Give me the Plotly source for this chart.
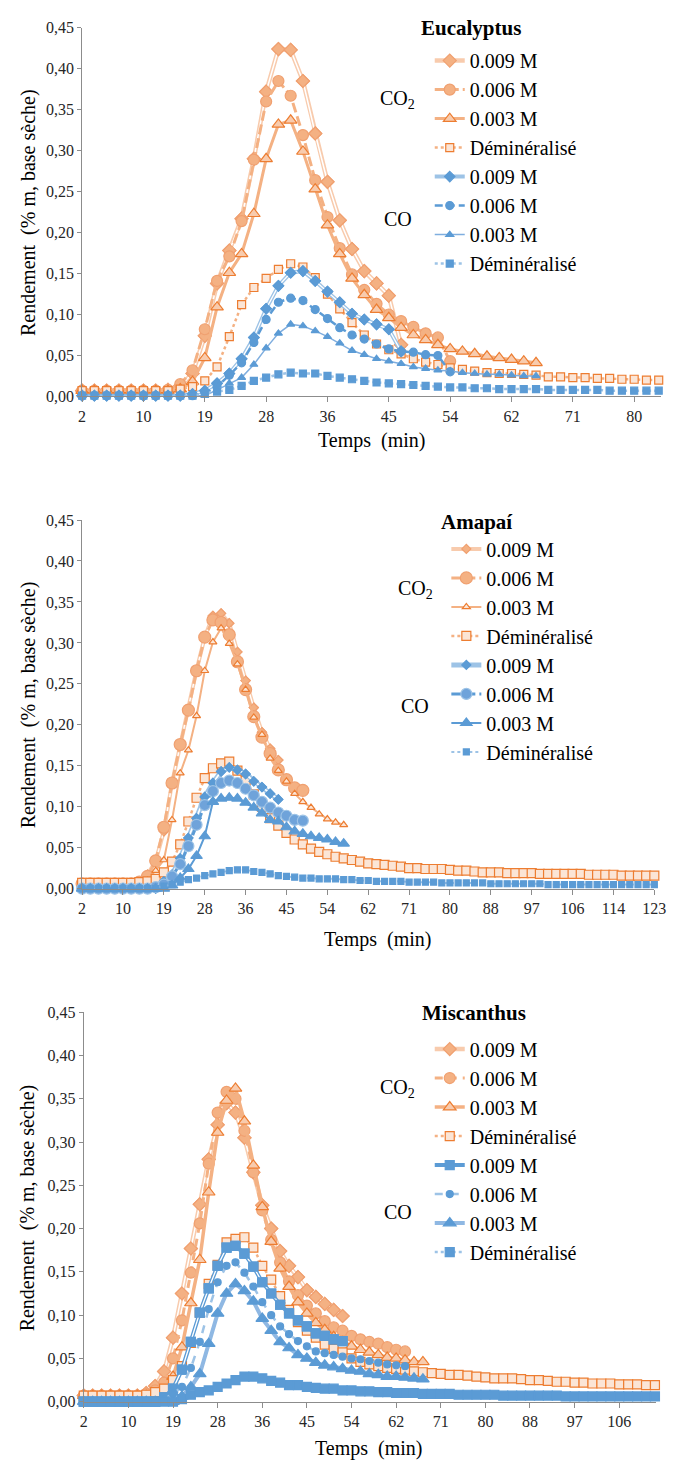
import plotly.graph_objects as go

W, H = 680, 1468
SERIF = "Liberation Serif, Times New Roman, serif"

# ---- tick labels (Excel category axis, one label every 5 points) ----
ticks_euc = ["2", "10", "19", "28", "36", "45", "54", "62", "71", "80"]
ticks_ama = ["2", "10", "19", "28", "36", "45", "54", "62", "71", "80", "88", "97", "106", "114", "123"]
ticks_mis = ["2", "10", "19", "28", "36", "45", "54", "62", "71", "80", "88", "97", "106"]

series_names = ["0.009 M", "0.006 M", "0.003 M", "Déminéralisé"]

# ---- Eucalyptus ----
euc_co2_009 = [0.007, 0.007, 0.007, 0.007, 0.007, 0.007, 0.007, 0.008, 0.013, 0.028,
               0.074, 0.138, 0.178, 0.217, 0.290, 0.372, 0.424, 0.423, 0.385, 0.321,
               0.262, 0.215, 0.180, 0.153, 0.138, 0.123, 0.063]
euc_co2_006 = [0.007, 0.007, 0.007, 0.007, 0.007, 0.007, 0.007, 0.008, 0.015, 0.032,
               0.082, 0.141, 0.171, 0.214, 0.289, 0.360, 0.385, 0.367, 0.319, 0.264,
               0.219, 0.181, 0.149, 0.130, 0.113, 0.100, 0.092, 0.085, 0.077, 0.072,
               0.043]
euc_co2_003 = [0.007, 0.007, 0.007, 0.007, 0.007, 0.007, 0.007, 0.007, 0.009, 0.018,
               0.047, 0.109, 0.151, 0.174, 0.223, 0.290, 0.332, 0.337, 0.299, 0.253,
               0.209, 0.174, 0.144, 0.124, 0.106, 0.096, 0.084, 0.075, 0.069, 0.063,
               0.058, 0.055, 0.052, 0.049, 0.047, 0.045, 0.043, 0.041]
euc_co2_dem = [0.007, 0.007, 0.007, 0.007, 0.007, 0.007, 0.007, 0.007, 0.009, 0.012,
               0.019, 0.036, 0.073, 0.112, 0.133, 0.144, 0.155, 0.162, 0.158, 0.145,
               0.125, 0.107, 0.090, 0.075, 0.064, 0.057, 0.052, 0.046, 0.042, 0.039,
               0.035, 0.033, 0.031, 0.029, 0.028, 0.028, 0.027, 0.026, 0.024, 0.024,
               0.023, 0.023, 0.022, 0.022, 0.021, 0.021, 0.020, 0.020]
euc_co_009 = [0.001, 0.001, 0.001, 0.001, 0.001, 0.001, 0.001, 0.001, 0.001, 0.003,
              0.007, 0.016, 0.028, 0.046, 0.072, 0.107, 0.135, 0.151, 0.153, 0.141,
              0.128, 0.115, 0.101, 0.094, 0.088, 0.082, 0.055]
euc_co_006 = [0.001, 0.001, 0.001, 0.001, 0.001, 0.001, 0.001, 0.001, 0.001, 0.001,
              0.005, 0.012, 0.026, 0.041, 0.066, 0.094, 0.115, 0.120, 0.117, 0.106,
              0.095, 0.084, 0.075, 0.070, 0.064, 0.058, 0.055, 0.054, 0.051, 0.050,
              0.030]
euc_co_003 = [0.001, 0.001, 0.001, 0.001, 0.001, 0.001, 0.001, 0.001, 0.001, 0.001,
              0.001, 0.008, 0.016, 0.023, 0.039, 0.059, 0.077, 0.088, 0.086, 0.080,
              0.073, 0.065, 0.056, 0.051, 0.046, 0.043, 0.040, 0.036, 0.034, 0.032,
              0.031, 0.029, 0.028, 0.027, 0.027, 0.026, 0.025, 0.025]
euc_co_dem = [0.001, 0.001, 0.001, 0.001, 0.001, 0.001, 0.001, 0.001, 0.001, 0.001,
              0.004, 0.006, 0.008, 0.013, 0.019, 0.023, 0.027, 0.029, 0.028, 0.028,
              0.025, 0.023, 0.021, 0.019, 0.017, 0.016, 0.015, 0.014, 0.013, 0.012,
              0.011, 0.011, 0.010, 0.010, 0.009, 0.009, 0.009, 0.009, 0.008, 0.008,
              0.008, 0.008, 0.008, 0.007, 0.007, 0.007, 0.007, 0.007]

# ---- Amapaí ----
ama_co2_009 = [0.006, 0.006, 0.006, 0.006, 0.006, 0.006, 0.006, 0.008, 0.017, 0.034,
               0.070, 0.129, 0.176, 0.219, 0.267, 0.307, 0.333, 0.336, 0.324, 0.289,
               0.254, 0.221, 0.191, 0.171, 0.157]
ama_co2_006 = [0.006, 0.006, 0.006, 0.006, 0.006, 0.006, 0.006, 0.008, 0.015, 0.034,
               0.075, 0.129, 0.176, 0.218, 0.266, 0.307, 0.328, 0.325, 0.310, 0.277,
               0.243, 0.210, 0.185, 0.165, 0.145, 0.133, 0.123, 0.120]
ama_co2_003 = [0.006, 0.006, 0.006, 0.006, 0.006, 0.006, 0.006, 0.006, 0.010, 0.022,
               0.035, 0.084, 0.141, 0.169, 0.211, 0.266, 0.301, 0.318, 0.299, 0.274,
               0.243, 0.209, 0.188, 0.159, 0.144, 0.131, 0.116, 0.106, 0.099, 0.091,
               0.085, 0.081, 0.078]
ama_co2_dem = [0.007, 0.007, 0.007, 0.007, 0.007, 0.007, 0.007, 0.008, 0.009, 0.012,
               0.020, 0.033, 0.054, 0.082, 0.111, 0.135, 0.147, 0.153, 0.155, 0.144,
               0.132, 0.115, 0.100, 0.086, 0.077, 0.068, 0.060, 0.054, 0.049, 0.045,
               0.042, 0.039, 0.037, 0.035, 0.033, 0.031, 0.030, 0.029, 0.028, 0.027,
               0.025, 0.025, 0.024, 0.024, 0.024, 0.023, 0.022, 0.022, 0.021, 0.020,
               0.020, 0.020, 0.019, 0.019, 0.019, 0.019, 0.018, 0.018, 0.018, 0.018,
               0.018, 0.018, 0.017, 0.017, 0.017, 0.017, 0.016, 0.016, 0.016, 0.016,
               0.016]
ama_co_009 = [0.000, 0.000, 0.000, 0.000, 0.000, 0.000, 0.000, 0.000, 0.000, 0.000,
              0.009, 0.017, 0.037, 0.062, 0.086, 0.112, 0.129, 0.143, 0.148, 0.145,
              0.140, 0.131, 0.124, 0.116, 0.109]
ama_co_006 = [0.000, 0.000, 0.000, 0.000, 0.000, 0.000, 0.000, 0.000, 0.000, 0.002,
              0.005, 0.015, 0.030, 0.052, 0.078, 0.102, 0.119, 0.129, 0.132, 0.129,
              0.122, 0.114, 0.106, 0.099, 0.093, 0.089, 0.084, 0.083]
ama_co_003 = [0.000, 0.000, 0.000, 0.000, 0.000, 0.000, 0.000, 0.000, 0.000, 0.000,
              0.000, 0.004, 0.013, 0.024, 0.040, 0.064, 0.106, 0.110, 0.111, 0.110,
              0.105, 0.099, 0.092, 0.084, 0.082, 0.075, 0.070, 0.067, 0.064, 0.062,
              0.060, 0.057, 0.055]
ama_co_dem = [0.000, 0.000, 0.000, 0.000, 0.000, 0.000, 0.000, 0.000, 0.000, 0.000,
              0.003, 0.005, 0.008, 0.011, 0.013, 0.016, 0.018, 0.020, 0.022, 0.023,
              0.023, 0.021, 0.020, 0.018, 0.016, 0.015, 0.014, 0.013, 0.013, 0.012,
              0.012, 0.012, 0.011, 0.011, 0.010, 0.010, 0.009, 0.009, 0.009, 0.009,
              0.008, 0.008, 0.008, 0.008, 0.007, 0.007, 0.007, 0.007, 0.007, 0.007,
              0.006, 0.006, 0.006, 0.006, 0.006, 0.006, 0.006, 0.005, 0.005, 0.005,
              0.005, 0.005, 0.005, 0.005, 0.005, 0.005, 0.005, 0.005, 0.005, 0.005,
              0.005]

# ---- Miscanthus ----
mis_co2_009 = [0.007, 0.007, 0.007, 0.007, 0.007, 0.007, 0.007, 0.010, 0.018, 0.035,
               0.074, 0.125, 0.177, 0.228, 0.280, 0.320, 0.345, 0.334, 0.305, 0.265,
               0.227, 0.200, 0.174, 0.157, 0.144, 0.129, 0.121, 0.113, 0.106, 0.099]
mis_co2_006 = [0.007, 0.007, 0.007, 0.007, 0.007, 0.007, 0.007, 0.009, 0.013, 0.022,
               0.050, 0.094, 0.149, 0.206, 0.275, 0.334, 0.358, 0.350, 0.313, 0.265,
               0.221, 0.187, 0.161, 0.139, 0.123, 0.111, 0.102, 0.093, 0.086, 0.082,
               0.076, 0.072, 0.069, 0.067, 0.063, 0.060, 0.058]
mis_co2_003 = [0.007, 0.007, 0.007, 0.007, 0.007, 0.007, 0.007, 0.007, 0.009, 0.013,
               0.029, 0.063, 0.114, 0.164, 0.242, 0.311, 0.348, 0.362, 0.324, 0.273,
               0.225, 0.185, 0.154, 0.133, 0.115, 0.102, 0.091, 0.083, 0.075, 0.069,
               0.064, 0.060, 0.057, 0.054, 0.051, 0.050, 0.048, 0.046, 0.046]
mis_co2_dem = [0.007, 0.007, 0.007, 0.007, 0.007, 0.007, 0.007, 0.008, 0.011, 0.015,
               0.025, 0.041, 0.068, 0.103, 0.136, 0.158, 0.184, 0.188, 0.190, 0.178,
               0.157, 0.141, 0.122, 0.106, 0.092, 0.082, 0.074, 0.066, 0.061, 0.057,
               0.050, 0.046, 0.043, 0.041, 0.039, 0.038, 0.037, 0.035, 0.034, 0.033,
               0.032, 0.031, 0.031, 0.030, 0.029, 0.028, 0.027, 0.027, 0.027, 0.026,
               0.025, 0.025, 0.024, 0.023, 0.023, 0.022, 0.022, 0.021, 0.021, 0.021,
               0.020, 0.020, 0.020, 0.019, 0.019]
mis_co_009 = [0.000, 0.000, 0.000, 0.000, 0.000, 0.000, 0.000, 0.000, 0.000, 0.005,
              0.015, 0.037, 0.069, 0.103, 0.131, 0.157, 0.178, 0.180, 0.171, 0.156,
              0.138, 0.125, 0.112, 0.102, 0.094, 0.087, 0.079, 0.076, 0.072, 0.070]
mis_co_006 = [0.000, 0.000, 0.000, 0.000, 0.000, 0.000, 0.000, 0.000, 0.000, 0.003,
              0.009, 0.017, 0.039, 0.069, 0.107, 0.138, 0.157, 0.161, 0.149, 0.133,
              0.115, 0.100, 0.087, 0.078, 0.070, 0.064, 0.058, 0.056, 0.054, 0.052,
              0.050, 0.049, 0.047, 0.045, 0.043, 0.042, 0.041]
mis_co_003 = [0.000, 0.000, 0.000, 0.000, 0.000, 0.000, 0.000, 0.000, 0.000, 0.000,
              0.000, 0.006, 0.017, 0.032, 0.067, 0.102, 0.125, 0.136, 0.128, 0.116,
              0.096, 0.082, 0.069, 0.062, 0.054, 0.050, 0.045, 0.042, 0.040, 0.038,
              0.036, 0.035, 0.032, 0.031, 0.029, 0.029, 0.028, 0.027, 0.026]
mis_co_dem = [0.000, 0.000, 0.000, 0.000, 0.000, 0.000, 0.000, 0.000, 0.000, 0.000,
              0.000, 0.003, 0.008, 0.011, 0.013, 0.017, 0.021, 0.025, 0.029, 0.029,
              0.027, 0.024, 0.022, 0.019, 0.019, 0.017, 0.016, 0.015, 0.015, 0.013,
              0.013, 0.012, 0.012, 0.011, 0.011, 0.010, 0.010, 0.010, 0.009, 0.009,
              0.009, 0.009, 0.008, 0.008, 0.008, 0.008, 0.008, 0.007, 0.007, 0.007,
              0.007, 0.007, 0.007, 0.007, 0.006, 0.006, 0.006, 0.006, 0.006, 0.006,
              0.006, 0.006, 0.006, 0.006, 0.006]

# colours
OR_DK = "#ED7D31"
OR_MD = "#F4B183"
OR_LT = "#F8CBAD"
OR_PALE = "#FBE5D6"
BL_DK = "#5B9BD5"
BL_MD = "#7FAEDF"
BL_LT = "#9DC3E6"


def sty(line, lw, dash, symbol, size, fill, edge, double=False):
    return dict(line=line, lw=lw, dash=dash, symbol=symbol, size=size,
                fill=fill, edge=edge, double=double)


# per panel styles, order: CO2 0.009/0.006/0.003/dem, CO 0.009/0.006/0.003/dem
styles_euc = [
    sty(OR_LT, 4.5, "solid", "diamond", 10, OR_MD, "#F0A070", True),
    sty(OR_MD, 3, "10px,4px", "circle", 11, OR_MD, "#F0A070"),
    sty(OR_MD, 3, "solid", "triangle-up", 11, OR_LT, OR_DK),
    sty(OR_MD, 2.5, "dot", "square", 8, OR_PALE, OR_DK),
    sty(BL_LT, 4, "solid", "diamond", 8, BL_DK, BL_DK, True),
    sty(BL_DK, 2.5, "8px,4px", "circle", 8, BL_DK, BL_DK),
    sty(BL_MD, 1.5, "solid", "triangle-up", 7, BL_DK, BL_DK),
    sty(BL_LT, 2.5, "dot", "square", 7, BL_DK, BL_DK),
]
styles_ama = [
    sty(OR_LT, 4, "solid", "diamond", 7, OR_MD, "#F0A070", True),
    sty(OR_MD, 3, "10px,4px", "circle", 12, OR_MD, "#F0A070"),
    sty(OR_MD, 2, "solid", "triangle-up", 7, OR_PALE, OR_DK),
    sty(OR_MD, 2.5, "dot", "square", 9, OR_PALE, OR_DK),
    sty(BL_LT, 5, "solid", "diamond", 7, BL_DK, BL_DK, True),
    sty(BL_DK, 3, "10px,4px", "circle", 11, "#6FA3DA", BL_LT),
    sty(BL_DK, 2, "solid", "triangle-up", 10, BL_DK, BL_DK),
    sty(BL_LT, 2, "dot", "square", 6, BL_DK, BL_DK),
]
styles_mis = [
    sty(OR_LT, 4.5, "solid", "diamond", 10, OR_MD, "#F0A070", True),
    sty(OR_MD, 3, "8px,6px", "circle", 11, OR_MD, "#F0A070"),
    sty(OR_MD, 3.5, "solid", "triangle-up", 11, OR_LT, OR_DK),
    sty(OR_MD, 2.5, "dot", "square", 9, OR_PALE, OR_DK),
    sty(BL_DK, 4, "solid", "square", 9, BL_DK, BL_DK, True),
    sty(BL_LT, 2.5, "8px,8px", "circle", 7, BL_DK, BL_DK),
    sty("#8FB8E3", 4, "solid", "triangle-up", 11, BL_DK, BL_DK),
    sty(BL_LT, 2.5, "dot", "square", 9, BL_DK, BL_DK),
]

fig = go.Figure()


def add_series(y, name, st, xa, ya, legend):
    x = list(range(len(y)))
    mk = dict(symbol=st["symbol"], size=st["size"], color=st["fill"],
              line=dict(color=st["edge"], width=1.2))
    common = dict(x=x, y=y, xaxis=xa, yaxis=ya, cliponaxis=False, hoverinfo="x+y")
    fig.add_trace(go.Scatter(name=name, legend=legend, mode="lines+markers",
                             line=dict(color=st["line"], width=st["lw"], dash=st["dash"]),
                             marker=mk, **common))
    if st["double"]:
        # white core line to mimic Excel's double line, then markers back on top
        fig.add_trace(go.Scatter(mode="lines", showlegend=False,
                                 line=dict(color="white", width=st["lw"] / 3), **common))
        fig.add_trace(go.Scatter(mode="markers", showlegend=False, marker=mk, **common))


panels = [
    ([euc_co2_009, euc_co2_006, euc_co2_003, euc_co2_dem,
      euc_co_009, euc_co_006, euc_co_003, euc_co_dem], styles_euc, "x", "y", "legend"),
    ([ama_co2_009, ama_co2_006, ama_co2_003, ama_co2_dem,
      ama_co_009, ama_co_006, ama_co_003, ama_co_dem], styles_ama, "x2", "y2", "legend2"),
    ([mis_co2_009, mis_co2_006, mis_co2_003, mis_co2_dem,
      mis_co_009, mis_co_006, mis_co_003, mis_co_dem], styles_mis, "x3", "y3", "legend3"),
]
for data, styles, xa, ya, lg in panels:
    for i, (y, st) in enumerate(zip(data, styles)):
        add_series(y, series_names[i % 4], st, xa, ya, lg)


def fy(px):
    return 1 - px / H


def fx(px):
    return px / W


AX_COL = "#8C8C8C"
tick_font = dict(family=SERIF, size=16, color="#262626")


def xaxis(labels, x0, x1, kmax, anchor):
    return dict(domain=[fx(x0), fx(x1)], range=[0, kmax], anchor=anchor,
                tickmode="array", tickvals=[5 * i for i in range(len(labels))],
                ticktext=labels, ticks="outside", ticklen=5, tickcolor=AX_COL,
                showline=True, linecolor=AX_COL, linewidth=1, showgrid=False,
                zeroline=False, tickfont=tick_font)


def yaxis(top, bottom, anchor):
    return dict(domain=[fy(bottom), fy(top)], range=[0, 0.45], anchor=anchor,
                tickvals=[0.05 * i for i in range(10)], tickformat=".2f",
                ticks="outside", ticklen=4, tickcolor=AX_COL, showline=True,
                linecolor=AX_COL, linewidth=1, showgrid=False, zeroline=False,
                tickfont=tick_font)


leg_font = dict(family=SERIF, size=20, color="black")


def legend(xtext, yfirst):
    return dict(x=fx(xtext - 35), y=fy(yfirst - 19.5), xanchor="left", yanchor="top",
                xref="paper", yref="paper", font=leg_font, bgcolor="rgba(0,0,0,0)",
                itemwidth=30, tracegroupgap=0)


fig.update_layout(
    width=W, height=H, margin=dict(l=0, r=0, t=0, b=0),
    paper_bgcolor="white", plot_bgcolor="white",
    separators=", ",
    font=dict(family=SERIF, color="black"),
    xaxis=xaxis(ticks_euc, 80, 673, 47.2, "y"),
    yaxis=yaxis(20, 393, "x"),
    xaxis2=xaxis(ticks_ama, 80, 666, 70, "y2"),
    yaxis2=yaxis(518, 891, "x2"),
    xaxis3=xaxis(ticks_mis, 81.7, 668, 64.15, "y3"),
    yaxis3=yaxis(1016, 1410, "x3"),
    legend=legend(471, 53),
    legend2=legend(488, 547),
    legend3=legend(471, 1053),
)

ann = []


def text(x, y, s, size=20, angle=0, bold=False):
    ann.append(dict(x=fx(x), y=fy(y), xref="paper", yref="paper", text=s,
                    showarrow=False, textangle=angle, xanchor="center", yanchor="middle",
                    font=dict(family=SERIF, size=size, color="black",
                              weight="bold" if bold else "normal")))


ytitle = "Rendement\u00a0 (% m, base sèche)"
xtitle = "Temps\u00a0 (min)"
# panel titles, group labels, axis titles
for title, tx, ty, co2y, coy, grpx, xt, xty, yty in [
    ("Eucalyptus", 478, 20, 93, 213, 403, 376, 438, 207),
    ("Amapaí", 484, 520, 588, 706, 421, 383, 942, 705),
    ("Miscanthus", 481, 1017, 1093, 1218, 403, 373, 1457, 1214),
]:
    text(tx, ty, title, size=21, bold=True)
    text(grpx, co2y, "CO<sub>2</sub>", size=20)
    text(grpx, coy, "CO", size=20)
    text(xt, xty, xtitle, size=20)
    text(25, yty, ytitle, size=20, angle=-90)

fig.update_layout(annotations=ann)

# page body has a default 8px margin; drop it so the figure sits at the page origin
fig.write_html("out.html", config={"displayModeBar": False},
               post_script="document.body.style.margin='0';")
